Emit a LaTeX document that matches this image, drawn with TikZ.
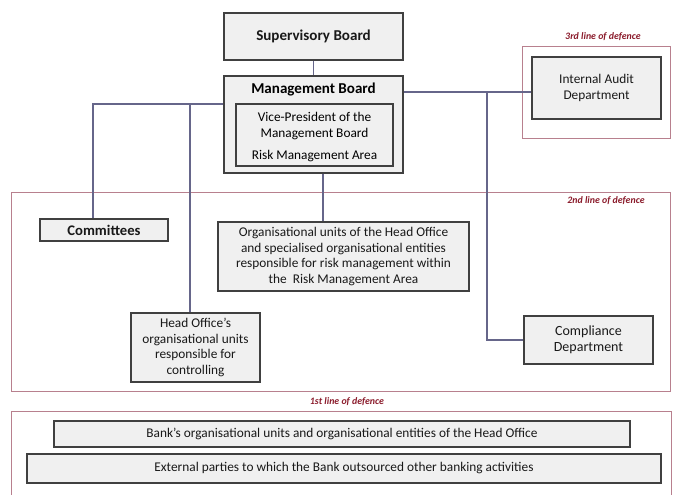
\documentclass[tikz,border=0pt]{standalone}
\usepackage{fontspec}
\setmainfont{Carlito}
\usetikzlibrary{shadows}
\definecolor{conn}{HTML}{66668A}
\definecolor{frm}{HTML}{B8808E}
\definecolor{lbl}{HTML}{8B1C2C}
\definecolor{boxfill}{HTML}{F0F0F0}
\tikzset{
  box/.style={draw=black!75, line width=0.9pt, fill=boxfill, align=center, inner sep=1pt,
    drop shadow={shadow xshift=0.8pt, shadow yshift=-0.8pt, opacity=0.35}, text=black!90},
  conn/.style={draw=conn, line width=0.8pt},
  frame/.style={draw=frm, line width=0.7pt},
  lbl/.style={text=lbl, font=\fontsize{7.4}{9}\selectfont\bfseries\itshape, inner sep=0pt},
  big/.style={font=\fontsize{11.3}{13}\selectfont\bfseries},
  med/.style={font=\fontsize{10}{11.6}\selectfont},
}
\begin{document}
\begin{tikzpicture}[x=0.75pt,y=-0.75pt]
\useasboundingbox (0,0) rectangle (674,495);
% frames
\draw[frame] (522,46) rectangle (670,138);
\draw[frame] (11,192) rectangle (670,391);
\draw[frame] (11,411) rectangle (671,505);
\node[lbl] (l3) at (603,37) {3rd line of defence};
\node[lbl] (l2) at (606,201) {2nd line of defence};
\node[lbl] (l1) at (347,402) {1st line of defence};
% boxes
\node[box, big, minimum width=134.25pt, minimum height=35.25pt] (sup) at (313.5,36.5) {Supervisory Board};
\node[box, minimum width=134.25pt, minimum height=72.75pt] (mgmt) at (313.5,124.5) {};
\node[big, inner sep=0pt] (mgmtt) at (313.5,89) {Management Board};
\node[box, drop shadow={opacity=0}, minimum width=117.75pt, minimum height=46.5pt] (vp) at (314.5,135) {};
\node[med, align=center, inner sep=0pt] (vpt) at (314.5,126) {Vice-President of the\\Management Board};
\node[med, inner sep=0pt] (vpr) at (314.5,156) {Risk Management Area};
\node[box, med, minimum width=96.75pt, minimum height=46.5pt] (audit) at (596.5,88) {Internal Audit\\Department};
\node[box, big, font=\fontsize{11}{12}\selectfont\bfseries, minimum width=96pt, minimum height=16.5pt] (comm) at (104,230) {Committees};
\node[box, med, minimum width=188.25pt, minimum height=51.75pt] (org) at (343.5,256.5) {Organisational units of the Head Office\\and specialised organisational entities\\responsible for risk management within\\the\ \ Risk Management Area};
\node[box, med, minimum width=96.75pt, minimum height=51.75pt] (head) at (195.5,347.5) {Head Office's\\organisational units\\responsible for\\controlling};
\node[box, med, font=\fontsize{10.5}{12}\selectfont, minimum width=96.75pt, minimum height=36pt] (comp) at (588.5,340) {Compliance\\Department};
\node[box, med, minimum width=432pt, minimum height=19.5pt] (bank) at (342,434) {Bank's organisational units and organisational entities of the Head Office};
\node[box, med, minimum width=475.5pt, minimum height=21.75pt] (ext) at (344,468.5) {External parties to which the Bank outsourced other banking activities};
% connector junctions
\coordinate (jr) at (487,92);
\coordinate (jl) at (93,104);
\coordinate (jh) at (190,104);
% connectors
\draw[conn] (sup.south) -- (mgmt.north);
\draw[conn] (mgmt.east |- jr) -- (audit.west |- jr);
\draw[conn] (jr) |- (comp.west);
\draw[conn] (mgmt.west |- jl) -- (jl) -- (comm.north -| jl);
\draw[conn] (jh) -- (head.north -| jh);
\draw[conn] (mgmt.south -| org.north) ++(-20.5,0) coordinate (ms) -- (ms |- org.north);
\end{tikzpicture}
\end{document}
